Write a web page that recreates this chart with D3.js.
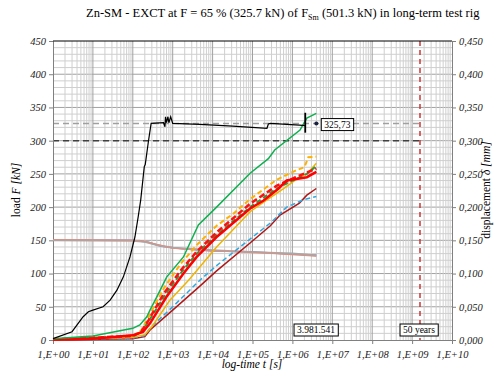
<!DOCTYPE html>
<html>
<head>
<meta charset="utf-8">
<script src="https://cdn.jsdelivr.net/npm/d3@7"></script>
<style>
  body { margin: 0; background: #fff; font-family: "Liberation Serif", serif; }
</style>
</head>
<body>
<script>
// load curve F [kN] over time t [s]
const loadT = [1, 3, 5.7, 7.7, 10, 18, 27, 40, 58, 85, 113, 137, 158, 194, 205, 215, 245, 288, 590, 640, 660, 700, 760, 800, 890, 1000, 4800, 3.2e4, 2.3e5, 2.5e5, 2.8e5, 1.5e6, 2.1e6];
const loadF = [2, 12.5, 35, 42.6, 45, 50, 60, 75, 95, 125, 155, 186, 211, 261, 264, 273, 298, 326, 327, 321, 336, 327, 336, 327, 336, 326, 324.6, 322, 318.6, 325, 326, 323.5, 322.6];
const endT = 3981541, endF = 325.73;
const barT = 2.1e6, barF = [312, 342];
const refLoad = 325.73, limitLoad = 300, fiftyYears = 1.577e9;

// displacement curves d [mm]
const dispSeries = [
  {name: "darkred", color: "#b01818", dash: null, w: 1.5,
   t: [1, 100, 200, 270, 1000, 4800, 1.26e4, 8.7e4, 2.8e5, 4.9e5, 1.5e6, 2.3e6, 3.98e6],
   d: [0, 0.002, 0.005, 0.015, 0.045, 0.081, 0.104, 0.146, 0.172, 0.188, 0.206, 0.218, 0.228]},
  {name: "blue", color: "#30a8e0", dash: "5,3", w: 1.5,
   t: [1, 100, 200, 270, 1000, 4800, 1.26e4, 8.7e4, 2.8e5, 7.2e5, 1.9e6, 3.98e6],
   d: [0.0005, 0.003, 0.007, 0.018, 0.05, 0.09, 0.112, 0.152, 0.176, 0.2, 0.211, 0.216]},
  {name: "yellow", color: "#f0b400", dash: null, w: 1.5,
   t: [1, 100, 200, 300, 850, 2500, 1.26e4, 8.7e4, 2.3e5, 6e5, 1.5e6, 2.3e6, 3.98e6],
   d: [0.0005, 0.004, 0.008, 0.02, 0.06, 0.09, 0.14, 0.193, 0.211, 0.228, 0.245, 0.25, 0.266]},
  {name: "orange", color: "#ffb000", dash: "5,3", w: 2,
   t: [1, 100, 160, 250, 600, 1600, 4000, 1.26e4, 3.3e4, 8.7e4, 4e5, 1.2e6, 2e6, 2.5e6, 3.98e6],
   d: [0.001, 0.006, 0.014, 0.035, 0.078, 0.115, 0.143, 0.172, 0.19, 0.212, 0.241, 0.255, 0.26, 0.275, 0.276]},
  {name: "greendash", color: "#20a040", dash: "5,3", w: 2,
   t: [1, 100, 170, 260, 650, 1700, 4000, 1.26e4, 8.7e4, 4e5, 1.2e6, 2.3e6, 3.98e6],
   d: [0.001, 0.006, 0.013, 0.03, 0.068, 0.103, 0.13, 0.158, 0.2, 0.228, 0.242, 0.25, 0.262]},
  {name: "reddash", color: "#ff1010", dash: "6,3", w: 2.5,
   t: [1, 100, 160, 250, 600, 1600, 4000, 1.26e4, 8.7e4, 4e5, 1.2e6, 2.3e6, 3.98e6],
   d: [0.001, 0.006, 0.012, 0.03, 0.07, 0.105, 0.133, 0.162, 0.205, 0.232, 0.245, 0.252, 0.258]},
  {name: "red", color: "#ff0000", dash: null, w: 2.5,
   t: [1, 10, 100, 180, 270, 700, 1860, 4000, 1.26e4, 8.7e4, 1.9e5, 4.5e5, 7.2e5, 1.5e6, 2.3e6, 3.98e6],
   d: [0.0005, 0.002, 0.007, 0.012, 0.025, 0.065, 0.1, 0.125, 0.155, 0.198, 0.21, 0.228, 0.24, 0.243, 0.245, 0.253]},
  {name: "green", color: "#10b050", dash: null, w: 1.5,
   t: [1, 10, 100, 150, 225, 270, 400, 710, 1860, 4400, 1.26e4, 8.7e4, 2.5e5, 3.6e5, 1.55e6, 2.3e6, 3.98e6],
   d: [0.002, 0.006, 0.0176, 0.0226, 0.035, 0.045, 0.065, 0.095, 0.125, 0.173, 0.2, 0.251, 0.273, 0.286, 0.316, 0.334, 0.341]}
];

// flat curves around 150 (left axis)
const flatSeries = [
  {color: "#9888c0", w: 1.5,
   t: [1, 100, 250, 500, 2000, 1e4, 1e5, 1e6, 3.98e6], v: [150.5, 150, 147, 141, 137, 134, 133, 129, 128]},
  {color: "#a8a8a8", w: 2,
   t: [1, 100, 200, 400, 1000, 1e4, 1e5, 1e6, 3.98e6], v: [150, 149.5, 148, 143, 139, 135, 132, 130, 127]},
  {color: "#e09080", w: 1,
   t: [1, 150, 300, 1000, 1e4, 1e5, 3.98e6], v: [151, 150, 146, 138, 134, 132, 126]}
];

const loadTicks = d3.range(0, 451, 50);
const dispTicks = d3.range(0, 0.4501, 0.05);
const timeTicks = d3.range(0, 11).map(e => Math.pow(10, e));

let margin = {top: 41, left: 53, bottom: 36, right: 51};
let width = 503 - margin.left - margin.right;
let height = 376 - margin.top - margin.bottom;
const serif = "Liberation Serif";

const svg = d3.select("body").append("svg")
  .attr("width", 503).attr("height", 376)
  .style("font-family", serif);
const g = svg.append("g").attr("transform", `translate(${margin.left},${margin.top})`);

const x = d3.scaleLog().domain([1, 1e10]).range([0, width]);
const y = d3.scaleLinear().domain([0, 450]).range([height, 0]);
const y2 = d3.scaleLinear().domain([0, 0.45]).range([height, 0]);

// title
const title = svg.append("text").attr("x", 86).attr("y", 17).attr("font-size", 12.5)
  .style("font-family", serif);
title.append("tspan").text("Zn-SM - EXCT at F = 65 % (325.7 kN) of F");
title.append("tspan").attr("font-size", 8).attr("dy", 3).text("Sm");
title.append("tspan").attr("dy", -3).text(" (501.3 kN) in long-term test rig");

// grid horizontal
g.selectAll(".hmin").data(d3.range(10, 450, 10)).enter().append("line")
  .attr("x1", 0).attr("x2", width)
  .attr("y1", d => y(d)).attr("y2", d => y(d))
  .attr("stroke", d => d % 50 === 0 ? "#a0a0a0" : "#cfcfcf").attr("stroke-width", 1);

// grid vertical (log minor)
const minors = [];
for (let e = 0; e < 10; e++) for (let k = 2; k <= 9; k++) minors.push(k * Math.pow(10, e));
g.selectAll(".vmin").data(minors).enter().append("line")
  .attr("x1", d => x(d)).attr("x2", d => x(d))
  .attr("y1", 0).attr("y2", height)
  .attr("stroke", "#cfcfcf").attr("stroke-width", 1);
g.selectAll(".vmaj").data(timeTicks.slice(1, 10)).enter().append("line")
  .attr("x1", d => x(d)).attr("x2", d => x(d))
  .attr("y1", 0).attr("y2", height)
  .attr("stroke", "#a0a0a0").attr("stroke-width", 1);

// reference lines
g.append("line").attr("x1", 0).attr("x2", x(fiftyYears))
  .attr("y1", y(refLoad)).attr("y2", y(refLoad))
  .attr("stroke", "#a0a0a0").attr("stroke-width", 1.5).attr("stroke-dasharray", "6,4");
g.append("line").attr("x1", 0).attr("x2", x(fiftyYears))
  .attr("y1", y(limitLoad)).attr("y2", y(limitLoad))
  .attr("stroke", "#404040").attr("stroke-width", 1.5).attr("stroke-dasharray", "6,4");
g.append("line").attr("x1", x(fiftyYears)).attr("x2", x(fiftyYears))
  .attr("y1", 0).attr("y2", height)
  .attr("stroke", "#c83838").attr("stroke-width", 1.5).attr("stroke-dasharray", "5,4");

// axes
const xAxis = g.append("g").attr("transform", `translate(0,${height})`)
  .call(d3.axisBottom(x).tickValues(timeTicks).tickSize(4)
    .tickFormat(d => "1,E+" + String(Math.round(Math.log10(d))).padStart(2, "0")));
const yAxis = g.append("g")
  .call(d3.axisLeft(y).tickValues(loadTicks).tickSize(4));
const y2Axis = g.append("g").attr("transform", `translate(${width},0)`)
  .call(d3.axisRight(y2).tickValues(dispTicks).tickSize(4)
    .tickFormat(d => d3.format(".3f")(d).replace(".", ",")));
[xAxis, yAxis, y2Axis].forEach(a => {
  a.attr("font-family", null);
  a.select(".domain").attr("stroke", "#808080");
  a.selectAll(".tick line").attr("stroke", "#808080");
  a.selectAll("text").attr("font-size", 10.5).style("font-style", "italic")
    .style("font-family", serif).attr("fill", "#222");
});
xAxis.selectAll("text").attr("dy", "1.0em");
g.append("line").attr("x1", 0).attr("x2", width).attr("y1", 0).attr("y2", 0)
  .attr("stroke", "#000").attr("stroke-width", 1);

// flat curves
flatSeries.forEach(s => {
  const pts = s.t.map((t, i) => [t, s.v[i]]);
  g.append("path").datum(pts)
    .attr("fill", "none").attr("stroke", s.color).attr("stroke-width", s.w)
    .attr("d", d3.line().x(d => x(d[0])).y(d => y(d[1])));
});

// displacement curves
dispSeries.forEach(s => {
  const pts = s.t.map((t, i) => [t, s.d[i]]);
  g.append("path").datum(pts)
    .attr("fill", "none").attr("stroke", s.color).attr("stroke-width", s.w)
    .attr("stroke-dasharray", s.dash)
    .attr("d", d3.line().x(d => x(d[0])).y(d => y2(d[1])));
});

// load curve
const loadPts = loadT.map((t, i) => [t, loadF[i]]);
g.append("path").datum(loadPts)
  .attr("fill", "none").attr("stroke", "#000").attr("stroke-width", 1.2)
  .attr("d", d3.line().x(d => x(d[0])).y(d => y(d[1])));
g.append("line").attr("x1", x(barT)).attr("x2", x(barT))
  .attr("y1", y(barF[0])).attr("y2", y(barF[1]))
  .attr("stroke", "#000").attr("stroke-width", 1.8);
g.append("circle").attr("cx", x(endT)).attr("cy", y(endF)).attr("r", 2)
  .attr("fill", "#1a2040");

// boxed labels
function boxLabel(cx, cy, txt) {
  const t = g.append("text").attr("x", cx).attr("y", cy).attr("font-size", 9.5)
    .style("font-family", serif)
    .attr("text-anchor", "middle").attr("dominant-baseline", "central").text(txt);
  const b = t.node().getBBox();
  g.insert("rect", () => t.node())
    .attr("x", b.x - 3).attr("y", b.y - 1).attr("width", b.width + 6).attr("height", b.height + 2)
    .attr("fill", "#fff").attr("stroke", "#000").attr("stroke-width", 1);
}
boxLabel(x(endT) + 21, y(endF) + 1, String(endF).replace(".", ","));
boxLabel(x(endT) - 0.3, height - 10, "3.981.541");
boxLabel(x(fiftyYears) - 1, height - 10, "50 years");

// axis titles
const yl = svg.append("text").attr("transform", "translate(20,190) rotate(-90)")
  .attr("text-anchor", "middle").attr("font-size", 11.5).style("font-family", serif);
yl.append("tspan").text("load ");
yl.append("tspan").style("font-style", "italic").text("F [kN]");
const yr = svg.append("text").attr("transform", "translate(490,190) rotate(-90)")
  .attr("text-anchor", "middle").attr("font-size", 11.5).style("font-family", serif);
yr.append("tspan").text("displacement ");
yr.append("tspan").style("font-style", "italic").text("δ [mm]");
svg.append("text").attr("x", 252).attr("y", 368).attr("text-anchor", "middle")
  .style("font-family", serif)
  .attr("font-size", 11.5).style("font-style", "italic").text("log-time t [s]");
</script>
</body>
</html>
